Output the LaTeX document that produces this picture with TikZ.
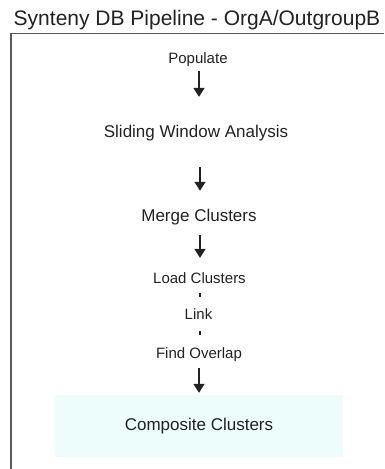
\documentclass[tikz,border=0pt]{standalone}
\usepackage{fontspec}
\setmainfont{Liberation Sans}
\usetikzlibrary{arrows.meta}
\definecolor{boxcyan}{RGB}{236,253,252}
\definecolor{inkgray}{RGB}{34,34,34}
\tikzset{
  steptext/.style={anchor=base,inner sep=0pt,text=inkgray,font=\fontsize{15}{18}\selectfont},
  bigtext/.style={anchor=base,inner sep=0pt,text=inkgray,font=\fontsize{17}{20}\selectfont},
  arr/.style={-{Triangle[length=9pt,width=11pt]},line width=1.4pt,inkgray},
  tick/.style={line width=2pt,inkgray}
}
\begin{document}
\begin{tikzpicture}[x=1pt,y=-1pt]
\useasboundingbox (0,0) rectangle (384,469);
\node[anchor=base,inner sep=0pt,text=inkgray,font=\fontsize{21}{24}\selectfont] (title) at (197,25) {Synteny DB Pipeline - OrgA/OutgroupB};
\draw[black!65,line width=1.6pt] (11,469)--(11,33);
\draw[black!65,line width=0.8pt] (10.2,33)--(384,33);
\node[steptext] (populate) at (198,63) {Populate};
\node[bigtext] (sliding) at (196,137) {Sliding Window Analysis};
\node[bigtext] (merge) at (199,221) {Merge Clusters};
\node[steptext] (load) at (199.5,283) {Load Clusters};
\node[steptext] (link) at (198.5,319) {Link};
\node[steptext] (overlap) at (199,358) {Find Overlap};
\node[fill=boxcyan,minimum width=288pt,minimum height=62pt,inner sep=0pt,text=inkgray,font=\fontsize{17}{20}\selectfont] (composite) at (199,426) {\raisebox{-3pt}{Composite Clusters}};
\draw[arr,shorten <=5pt,shorten >=27.6pt] (populate.south -| 199,0) -- (sliding.north -| 199,0);
\draw[arr,shorten <=26.4pt,shorten >=17.7pt] (sliding.south -| 200,0) -- (merge.north -| 200,0);
\draw[arr,shorten <=10.5pt,shorten >=14pt] (merge.south -| 200,0) -- (load.north -| 200,0);
\draw[tick,shorten <=10pt,shorten >=11pt] (load.south -| 200,0) -- (link.north -| 200,0);
\draw[tick,shorten <=12pt,shorten >=12pt] (link.south -| 200,0) -- (overlap.north -| 200,0);
\draw[arr,shorten <=7pt,shorten >=2pt] (overlap.south -| 199,0) -- (composite.north -| 199,0);
\end{tikzpicture}
\end{document}
